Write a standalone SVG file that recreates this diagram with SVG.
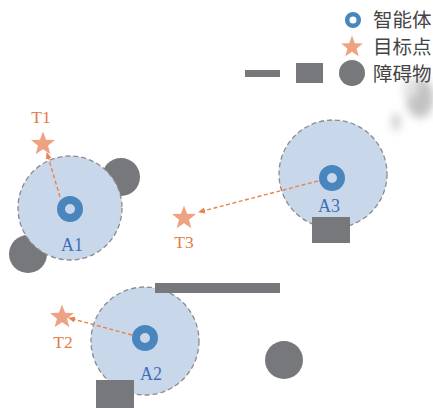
<svg xmlns="http://www.w3.org/2000/svg" xmlns:xlink="http://www.w3.org/1999/xlink" width="433" height="408" viewBox="0 0 433 408">
<style>
.zone{fill:#c9d7ea;stroke:#8c8c8c;stroke-width:1.3;stroke-dasharray:5 3}
.obs{fill:#77787b}
.agent{fill:none;stroke:#4a86be;stroke-width:8}
.star{fill:#eca283}
.lab-a{font-family:"Liberation Serif",serif;font-size:18px;fill:#3f6fb8;text-anchor:middle}
.lab-t{font-family:"Liberation Serif",serif;font-size:17.5px;fill:#e27c47;text-anchor:middle}
.leg{font-family:"Noto Sans CJK SC",sans-serif;font-size:19.5px;fill:#444}
.arr{fill:none;stroke:#e8834e;stroke-width:1.4;stroke-dasharray:4 2.5}
</style>
<defs>
<path id="star" d="M0,-12 L2.94,-4.05 L11.41,-3.71 L4.76,1.55 L7.05,9.71 L0,5 L-7.05,9.71 L-4.76,1.55 L-11.41,-3.71 L-2.94,-4.05Z"/>
<marker id="ah" markerWidth="8" markerHeight="8" refX="6" refY="4" orient="auto" markerUnits="userSpaceOnUse">
<path d="M0,1 L7,4 L0,7Z" fill="#e8834e"/>
</marker>
<filter id="blur" x="-50%" y="-50%" width="200%" height="200%"><feGaussianBlur stdDeviation="4"/></filter>
</defs>

<g id="artifact" filter="url(#blur)" opacity="0.7">
<ellipse cx="420" cy="98" rx="14" ry="20" fill="#aaaaaa"/>
<ellipse cx="410" cy="88" rx="8" ry="10" fill="#d8d8d8"/>
<ellipse cx="396" cy="122" rx="4" ry="9" fill="#b5b5b5"/>
</g>

<g id="legend">
<circle cx="353" cy="20" r="5.8" fill="none" stroke="#4a86be" stroke-width="4.5"/>
<text class="leg" x="373" y="27">智能体</text>
<use xlink:href="#star" class="star" transform="translate(352,47) scale(0.95)"/>
<text class="leg" x="373" y="54">目标点</text>
<rect class="obs" x="245" y="70" width="35" height="7"/>
<rect class="obs" x="296" y="63" width="27" height="20"/>
<circle class="obs" cx="352" cy="73" r="13"/>
<text class="leg" x="373" y="81">障碍物</text>
</g>

<g id="obstacles">
<circle class="obs" cx="121" cy="177" r="19"/>
<circle class="obs" cx="28" cy="254" r="19"/>
<circle class="obs" cx="284" cy="360" r="19"/>
</g>

<g id="A1">
<circle class="zone" cx="70" cy="208" r="52"/>
<circle class="agent" cx="70" cy="209" r="9"/>
<text class="lab-a" x="72" y="251">A1</text>
</g>
<g id="A3">
<circle class="zone" cx="333" cy="174" r="54"/>
<rect class="obs" x="312" y="217" width="38" height="26"/>
<circle class="agent" cx="332" cy="178" r="9"/>
<text class="lab-a" x="329" y="212">A3</text>
</g>
<g id="A2">
<circle class="zone" cx="145" cy="341" r="54"/>
<rect class="obs" x="155" y="283" width="125" height="10"/>
<rect class="obs" x="96" y="380" width="38" height="28"/>
<circle class="agent" cx="145" cy="338" r="9"/>
<text class="lab-a" x="151" y="380">A2</text>
</g>

<g id="T1">
<use xlink:href="#star" class="star" transform="translate(43,144) scale(1.05)"/>
<text class="lab-t" x="41" y="123">T1</text>
</g>
<g id="T3">
<use xlink:href="#star" class="star" transform="translate(184,218) scale(1.05)"/>
<text class="lab-t" x="184" y="248">T3</text>
</g>
<g id="T2">
<use xlink:href="#star" class="star" transform="translate(62,317) scale(1.05)"/>
<text class="lab-t" x="63" y="348">T2</text>
</g>

<g id="connectors">
<path class="arr" d="M60,197 L47,153" marker-end="url(#ah)"/>
<path class="arr" d="M318,181 L199,212" marker-end="url(#ah)"/>
<path class="arr" d="M132,335 L69,318" marker-end="url(#ah)"/>
</g>
</svg>
